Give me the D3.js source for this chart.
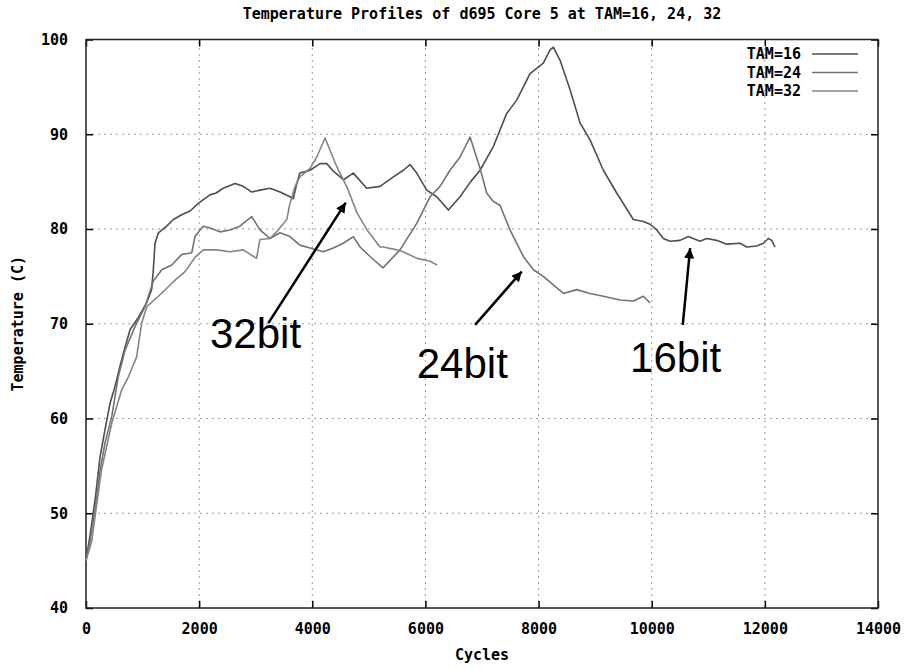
<!DOCTYPE html>
<html>
<head>
<meta charset="utf-8">
<script src="https://cdn.jsdelivr.net/npm/d3@7/dist/d3.min.js"></script>
<style>
body { margin: 0; background: #fff; }
svg { display: block; }
.mono { font-family: "DejaVu Sans Mono", "Liberation Mono", monospace; font-weight: bold; fill: #000; }
.note { font-family: "Liberation Sans", Arial, sans-serif; font-size: 42px; fill: #000; }
</style>
</head>
<body>
<div id="chart"></div>
<script>
const xTicks = [0, 2000, 4000, 6000, 8000, 10000, 12000, 14000];
const yTicks = [40, 50, 60, 70, 80, 90, 100];

// [cycles, temperature]
const tam16 = [[0,45.0],[70,47.6],[160,51.4],[250,56.0],[335,58.8],[425,61.6],[510,63.3],[600,65.5],[660,66.9],
  [780,69.4],[920,70.6],[1070,72.2],[1160,73.6],[1190,75.7],[1220,78.5],[1280,79.6],[1425,80.3],[1545,81.0],
  [1690,81.5],[1840,81.9],[1985,82.7],[2075,83.1],[2190,83.6],[2300,83.8],[2425,84.3],[2635,84.8],[2780,84.5],
  [2930,83.9],[3075,84.1],[3250,84.3],[3430,83.9],[3605,83.4],[3665,83.2],[3725,84.8],[3780,85.9],[3960,86.2],
  [4137,86.9],[4255,86.9],[4372,86.1],[4549,85.2],[4726,85.9],[4962,84.3],[5198,84.5],[5433,85.5],[5610,86.2],
  [5728,86.8],[5846,85.9],[6023,84.1],[6200,83.4],[6406,82.0],[6612,83.4],[6800,85.0],[6966,86.2],[7200,88.7],
  [7437,92.2],[7614,93.6],[7849,96.4],[8084,97.5],[8203,98.9],[8261,99.2],[8380,97.8],[8557,94.7],[8733,91.2],
  [8910,89.4],[9145,86.2],[9381,83.8],[9675,81.0],[9852,80.8],[9970,80.5],[10088,79.9],[10206,79.0],[10324,78.7],
  [10500,78.8],[10647,79.2],[10853,78.7],[10971,79.0],[11148,78.8],[11325,78.4],[11560,78.5],[11680,78.1],
  [11857,78.2],[11974,78.5],[12062,79.0],[12121,78.8],[12180,78.1]];

const tam24 = [[0,45.0],[70,47.0],[160,50.5],[250,54.5],[335,57.4],[455,60.2],[570,64.4],[690,67.2],[866,69.7],
  [1043,71.8],[1190,74.5],[1340,75.7],[1515,76.2],[1690,77.3],[1870,77.5],[1925,79.2],[2015,79.9],[2075,80.3],
  [2190,80.1],[2370,79.7],[2545,79.9],[2720,80.3],[2930,81.3],[3075,79.9],[3250,79.0],[3430,79.6],[3605,79.2],
  [3780,78.3],[3960,78.0],[4195,77.6],[4370,78.0],[4550,78.5],[4725,79.2],[4845,78.1],[5021,77.1],[5250,75.9],
  [5551,77.8],[5846,80.6],[6081,83.4],[6258,84.5],[6435,86.2],[6612,87.6],[6789,89.7],[6966,86.4],[7083,83.8],
  [7200,82.9],[7318,82.5],[7495,79.9],[7731,77.1],[7908,75.7],[8084,75.0],[8261,74.1],[8438,73.2],[8674,73.6],
  [8910,73.2],[9145,72.9],[9440,72.5],[9675,72.4],[9852,72.9],[9970,72.2]];

const tam32 = [[0,45.0],[100,47.0],[180,50.5],[275,54.6],[455,59.5],[630,63.0],[750,64.4],[895,66.5],[985,70.1],
  [1075,71.8],[1280,72.9],[1455,73.9],[1575,74.6],[1750,75.5],[1925,77.0],[2075,77.8],[2192,77.8],[2310,77.8],
  [2545,77.6],[2780,77.8],[3015,76.9],[3075,78.9],[3250,79.0],[3370,79.7],[3550,81.0],[3605,82.7],[3695,84.5],
  [3780,85.5],[3960,86.4],[4080,87.6],[4225,89.6],[4431,86.6],[4614,84.4],[4791,81.7],[4968,79.9],[5198,78.1],
  [5250,78.1],[5498,77.8],[5604,77.6],[5852,76.9],[6081,76.6],[6205,76.2]];

const seriesNames = ['TAM=16', 'TAM=24', 'TAM=32'];
const seriesData = [tam16, tam24, tam32];
const seriesColors = ['#4e4e4e', '#737373', '#858585'];

// annotations: label, arrow start, arrow tip, text position (left, baseline)
const notes = [
  { label: '32bit', from: [3223, 70.06], to: [4591, 82.78], text: [2192, 67.43] },
  { label: '24bit', from: [6877, 69.88], to: [7703, 75.51], text: [5847, 64.26] },
  { label: '16bit', from: [10549, 69.88], to: [10679, 77.97], text: [9618, 64.96] }
];

const width = 909, height = 669;
const margin = { top: 39.5, right: 31, bottom: 61, left: 86 };

const svg = d3.select('#chart').append('svg')
    .attr('width', width)
    .attr('height', height);

const x = d3.scaleLinear().domain([0, 14000]).range([margin.left, width - margin.right]);
const y = d3.scaleLinear().domain([40, 100]).range([height - margin.bottom, margin.top]);

// grid
svg.append('g').selectAll('line')
    .data(xTicks.slice(1, -1))
    .enter().append('line')
    .attr('x1', d => x(d)).attr('x2', d => x(d))
    .attr('y1', y(40)).attr('y2', y(100))
    .attr('stroke', '#999').attr('stroke-width', 1).attr('stroke-dasharray', '2,4');

svg.append('g').selectAll('line')
    .data(yTicks.slice(1, -1))
    .enter().append('line')
    .attr('x1', x(0)).attr('x2', x(14000))
    .attr('y1', d => y(d)).attr('y2', d => y(d))
    .attr('stroke', '#999').attr('stroke-width', 1).attr('stroke-dasharray', '2,4');

// axes with inward ticks on all sides
svg.append('g')
    .attr('transform', `translate(0,${y(40)})`)
    .call(d3.axisBottom(x).tickValues(xTicks).tickSizeInner(-7).tickSizeOuter(0).tickPadding(15).tickFormat(d3.format('d')))
    .call(g => g.select('.domain').remove());
svg.append('g')
    .attr('transform', `translate(0,${y(100)})`)
    .call(d3.axisTop(x).tickValues(xTicks).tickSizeInner(-7).tickSizeOuter(0).tickFormat(''))
    .call(g => g.select('.domain').remove());
svg.append('g')
    .attr('transform', `translate(${x(0)},0)`)
    .call(d3.axisLeft(y).tickValues(yTicks).tickSizeInner(-7).tickSizeOuter(0).tickPadding(18))
    .call(g => g.select('.domain').remove());
svg.append('g')
    .attr('transform', `translate(${x(14000)},0)`)
    .call(d3.axisRight(y).tickValues(yTicks).tickSizeInner(-7).tickSizeOuter(0).tickFormat(''))
    .call(g => g.select('.domain').remove());

svg.selectAll('.tick line').attr('stroke', '#000').attr('stroke-width', 1.5);
svg.selectAll('.tick text')
    .attr('class', 'mono')
    .style('font-size', '15px');

// frame
svg.append('rect')
    .attr('x', x(0)).attr('y', y(100))
    .attr('width', x(14000) - x(0)).attr('height', y(40) - y(100))
    .attr('fill', 'none').attr('stroke', '#222').attr('stroke-width', 1.5);

// series
const line = d3.line().x(d => x(d[0])).y(d => y(d[1]));
svg.append('g').selectAll('path')
    .data(seriesData)
    .enter().append('path')
    .attr('d', line)
    .attr('fill', 'none')
    .attr('stroke', (d, i) => seriesColors[i])
    .attr('stroke-width', 1.6)
    .attr('stroke-linejoin', 'round');

// legend
const legend = svg.append('g').selectAll('g')
    .data(seriesNames)
    .enter().append('g')
    .attr('transform', (d, i) => `translate(0,${54 + i * 18.5})`);
legend.append('text')
    .attr('class', 'mono')
    .attr('x', 801).attr('y', 5)
    .attr('text-anchor', 'end')
    .style('font-size', '15px')
    .text(d => d);
legend.append('line')
    .attr('x1', 812).attr('x2', 858)
    .attr('stroke', (d, i) => seriesColors[i])
    .attr('stroke-width', 1.4);

// titles
svg.append('text')
    .attr('class', 'mono')
    .attr('x', (x(0) + x(14000)) / 2).attr('y', 19)
    .attr('text-anchor', 'middle')
    .style('font-size', '15px')
    .text('Temperature Profiles of d695 Core 5 at TAM=16, 24, 32');
svg.append('text')
    .attr('class', 'mono')
    .attr('x', (x(0) + x(14000)) / 2).attr('y', 660)
    .attr('text-anchor', 'middle')
    .style('font-size', '15px')
    .text('Cycles');
svg.append('text')
    .attr('class', 'mono')
    .attr('transform', `translate(23,${(y(40) + y(100)) / 2}) rotate(-90)`)
    .attr('text-anchor', 'middle')
    .style('font-size', '15px')
    .text('Temperature (C)');

// annotations
svg.append('defs').append('marker')
    .attr('id', 'head')
    .attr('viewBox', '0 0 10 10')
    .attr('refX', 10).attr('refY', 5)
    .attr('markerWidth', 13).attr('markerHeight', 10)
    .attr('markerUnits', 'userSpaceOnUse')
    .attr('orient', 'auto')
    .append('path')
    .attr('d', 'M0,0 L10,5 L0,10 Z')
    .attr('fill', '#000');

svg.append('g').selectAll('line')
    .data(notes)
    .enter().append('line')
    .attr('x1', d => x(d.from[0])).attr('y1', d => y(d.from[1]))
    .attr('x2', d => x(d.to[0])).attr('y2', d => y(d.to[1]))
    .attr('stroke', '#000').attr('stroke-width', 2.5)
    .attr('marker-end', 'url(#head)');

svg.append('g').selectAll('text')
    .data(notes)
    .enter().append('text')
    .attr('class', 'note')
    .attr('x', d => x(d.text[0])).attr('y', d => y(d.text[1]))
    .text(d => d.label);
</script>
</body>
</html>
